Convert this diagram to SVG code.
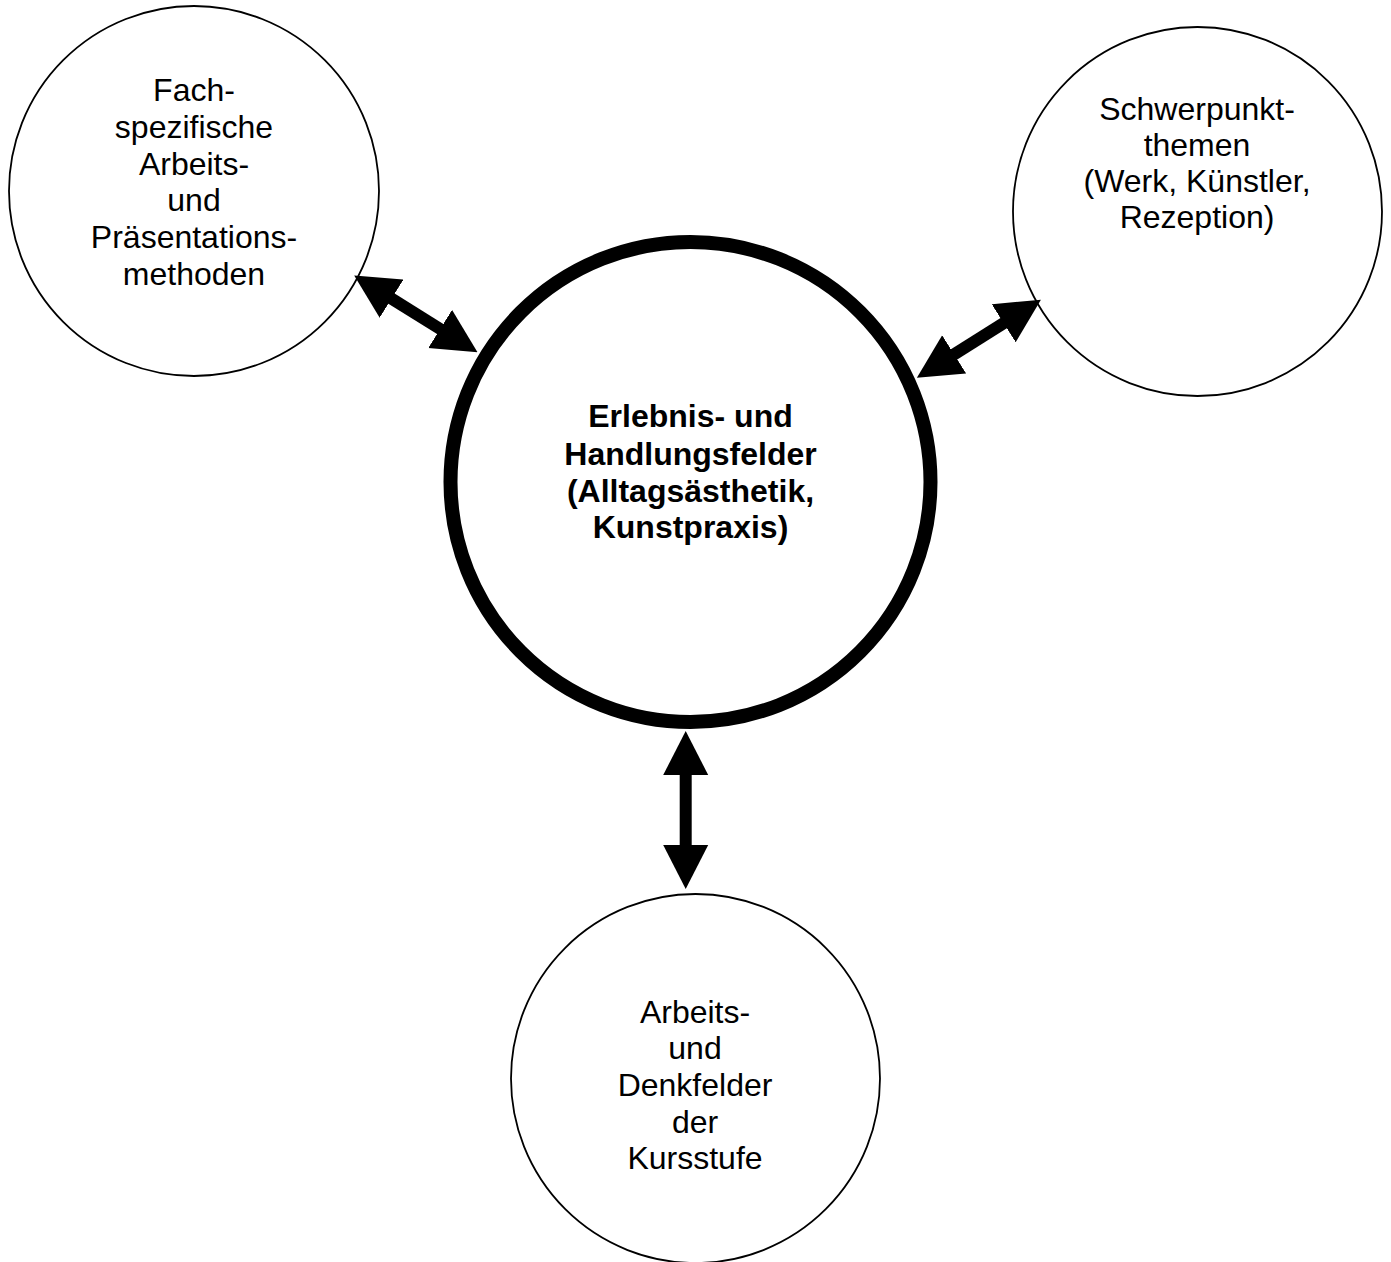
<svg xmlns="http://www.w3.org/2000/svg" width="1391" height="1262" viewBox="0 0 1391 1262">
  <style>
    .node { fill: #ffffff; stroke: #000000; stroke-width: 1.8; }
    .main { fill: #ffffff; stroke: #000000; stroke-width: 14; }
    .lbl { font-family: "Liberation Sans", Arial, Helvetica, sans-serif; font-size: 32px; fill: #000000; text-anchor: middle; }
    .bold { font-weight: bold; }
    .conn { stroke: #000000; stroke-width: 12; fill: none; marker-start: url(#head); marker-end: url(#head); }
  </style>
  <defs>
    <marker id="head" markerUnits="userSpaceOnUse" viewBox="0 -23 44 46" markerWidth="44" markerHeight="46" refX="1" refY="0" orient="auto-start-reverse">
      <path d="M0,-22.5 L44,0 L0,22.5 Z" fill="#000000"/>
    </marker>
  </defs>
  <rect x="0" y="0" width="1391" height="1262" fill="#ffffff"/>

  <g id="node-methoden">
    <circle class="node" cx="194" cy="191" r="185"/>
    <text class="lbl" x="194" y="101">Fach-</text>
    <text class="lbl" x="194" y="138">spezifische</text>
    <text class="lbl" x="194" y="175">Arbeits-</text>
    <text class="lbl" x="194" y="211">und</text>
    <text class="lbl" x="194" y="248">Präsentations-</text>
    <text class="lbl" x="194" y="285">methoden</text>
  </g>

  <g id="node-schwerpunkt">
    <circle class="node" cx="1197.5" cy="211.5" r="184.5"/>
    <text class="lbl" x="1197" y="120">Schwerpunkt-</text>
    <text class="lbl" x="1197" y="156">themen</text>
    <text class="lbl" x="1197" y="192">(Werk, Künstler,</text>
    <text class="lbl" x="1197" y="228">Rezeption)</text>
  </g>

  <g id="node-kursstufe">
    <circle class="node" cx="695.5" cy="1078.5" r="184.5"/>
    <text class="lbl" x="695" y="1023">Arbeits-</text>
    <text class="lbl" x="695" y="1059">und</text>
    <text class="lbl" x="695" y="1096">Denkfelder</text>
    <text class="lbl" x="695" y="1133">der</text>
    <text class="lbl" x="695" y="1169">Kursstufe</text>
  </g>

  <g id="node-center">
    <circle class="main" cx="690.5" cy="482" r="240"/>
    <text class="lbl bold" x="690.5" y="427">Erlebnis- und</text>
    <text class="lbl bold" x="690.5" y="465">Handlungsfelder</text>
    <text class="lbl bold" x="690.5" y="502">(Alltagsästhetik,</text>
    <text class="lbl bold" x="690.5" y="538">Kunstpraxis)</text>
  </g>

  <g id="connectors">
    <path class="conn" d="M390.7,298.2 L441,329.5"/>
    <path class="conn" d="M1004.5,322.7 L953.3,354.9"/>
    <path class="conn" d="M685.7,774 L685.7,846"/>
  </g>
</svg>
